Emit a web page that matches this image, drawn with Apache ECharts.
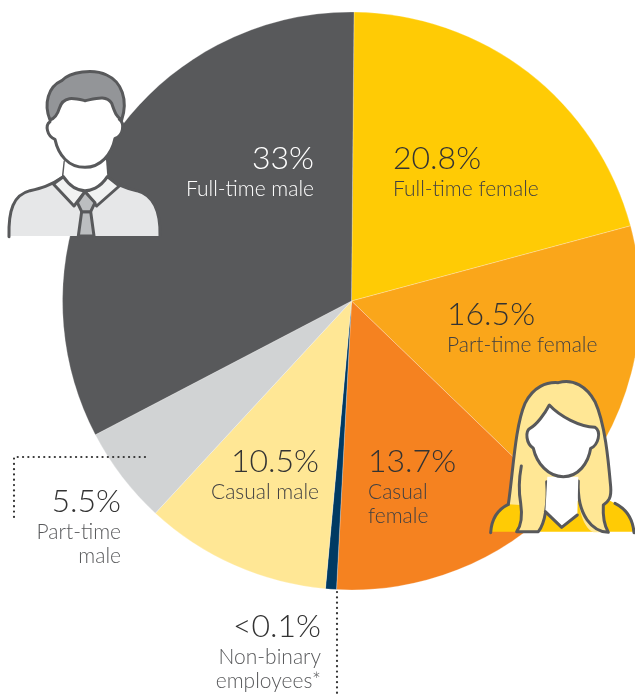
<!DOCTYPE html>
<html>
<head>
<meta charset="utf-8">
<style>
  html, body { margin: 0; padding: 0; background: #fff; overflow: hidden; }
  #chart { width: 635px; height: 694px; }
</style>
</head>
<body>
<div id="chart"></div>
<script src="https://cdn.jsdelivr.net/npm/echarts@6/dist/echarts.min.js"></script>
<script>
// clockwise from the top of the pie
const categories = ['Full-time female', 'Part-time female', 'Casual\nfemale', 'Non-binary\nemployees*', 'Casual male', 'Part-time\nmale', 'Full-time male']
const values = [20.8, 16.5, 13.7, 0.1, 10.5, 5.5, 33]
const valueLabels = ['20.8%', '16.5%', '13.7%', '<0.1%', '10.5%', '5.5%', '33%']

const sliceColors = ['#ffcb05', '#faa61a', '#f58220', '#003a63', '#ffe795', '#d1d3d4', '#58595b']
const labelSpots = [
  { x: 393, y: 140, align: 'left' },
  { x: 447, y: 296, align: 'left' },
  { x: 368, y: 443, align: 'left' },
  { x: 321, y: 608, align: 'right' },
  { x: 319, y: 443, align: 'right' },
  { x: 121, y: 483, align: 'right' },
  { x: 314, y: 140, align: 'right' }
]
const textFont = 'Lato'

// zoomed-in icon outlines, scaled down by the group
const lineColor = '#58595b'
const manIcon = [
  { d: 'M27,528 C25,450 40,405 90,392 C120,385 150,378 190,350 L322,350 C350,375 375,385 410,392 C460,405 482,450 480,528 Z', fill: '#e6e7e8', stroke: null },
  { d: 'M27,530 C25,450 40,405 90,392 C120,385 150,378 190,350 L195,305 M322,350 L318,305 M322,350 C350,375 375,385 410,392 C460,405 482,450 480,528', fill: null },
  { d: 'M195,300 L190,350 C210,380 235,392 255,392 C270,392 300,385 322,350 L318,300 Z', fill: '#fff', stroke: null },
  { d: 'M160,372 L222,438 L255,395 L290,438 L358,378 L322,350 C300,385 270,392 255,392 C235,392 210,380 190,350 Z', fill: '#f1f2f2' },
  { d: 'M245,455 L235,528 L282,528 L272,455 Z', fill: '#bcbec0' },
  { d: 'M255,395 L232,428 L245,455 L272,455 L285,428 Z', fill: '#bcbec0' },
  { d: 'M150,185 C135,195 140,228 165,238 C175,285 205,322 255,322 C300,322 335,285 345,235 C370,228 375,190 358,178 L255,100 Z', fill: '#fff', stroke: null },
  { d: 'M150,185 C135,195 140,228 165,238 C175,285 205,322 255,322 C300,322 335,285 345,235 C370,228 375,190 358,178', fill: null },
  { d: 'M150,180 C130,130 145,80 185,62 C210,35 280,25 320,45 C365,65 385,120 365,180 C350,170 345,160 335,130 C320,105 290,115 255,122 C225,115 190,105 178,145 C172,165 165,175 150,180 Z', fill: '#939598' }
]
const womanIcon = [
  { d: 'M32,485 C35,440 60,415 110,392 L390,392 C430,410 458,440 462,485 Z', fill: '#ffcb05', stroke: null },
  { d: 'M32,488 C35,440 60,415 85,403 M405,400 C435,415 458,440 462,488', fill: null },
  { d: 'M85,403 C100,300 105,170 135,100 C160,50 200,35 235,38 C280,25 320,50 345,95 C375,160 385,270 392,350 C395,385 385,395 370,405 C368,440 375,470 385,487 L340,487 C305,470 290,400 295,330 L200,335 C205,400 195,460 175,485 L110,485 C125,465 128,440 122,405 Z', fill: '#ffe795', stroke: null },
  { d: 'M85,403 C100,300 105,170 135,100 C160,50 200,35 235,38 C280,25 320,50 345,95 C375,160 385,270 392,350 M392,350 C395,385 385,395 370,405 C368,440 375,470 385,487 C340,485 290,440 295,333 M200,335 C205,400 195,460 175,485 L110,485 C125,465 128,440 122,400 C115,360 118,320 124,288', fill: null },
  { d: 'M202,320 L196,425 L245,472 L292,435 L295,320 Z', fill: '#fff', stroke: null },
  { d: 'M196,425 L245,472 L292,435', fill: null },
  { d: 'M208,105 C195,130 170,165 150,175 C135,185 138,220 160,235 C170,280 205,320 250,320 C295,320 325,280 332,235 C355,225 365,185 345,172 C300,170 240,140 208,105 Z', fill: '#fff' }
]

let shapeCount = 0
function iconGroup(parts, x, y) {
  return {
    type: 'group',
    x: x,
    y: y,
    scaleX: 1 / 3,
    scaleY: 1 / 3,
    z: 20,
    silent: true,
    children: parts.map(function (part) {
      // graphic has no plain path type, so each outline gets its own shape
      const shapeName = 'iconPart' + shapeCount++
      echarts.graphic.registerShape(shapeName, echarts.graphic.extendPath(part.d, {}))
      return {
        type: shapeName,
        z: 20,
        style: {
          fill: part.fill || 'none',
          stroke: part.stroke === null ? 'none' : lineColor,
          lineWidth: 9,
          lineJoin: 'round',
          lineCap: 'round'
        }
      }
    })
  }
}

function dottedLine(points) {
  return {
    type: 'polyline',
    z: 15,
    silent: true,
    shape: { points: points },
    style: { fill: 'none', stroke: '#333', lineWidth: 2.2, lineDash: [0.1, 5.2], lineCap: 'round' }
  }
}

const chart = echarts.init(document.getElementById('chart'), null, { renderer: 'canvas' })

const sliceData = categories.map(function (name, i) {
  const dark = i === categories.length - 1
  const outside = i === 3 || i === 5
  return {
    name: name,
    value: values[i],
    itemStyle: { color: sliceColors[i] },
    label: {
      formatter: '{v|' + valueLabels[i] + '}\n' + name.split('\n').map(function (t) { return '{n|' + t + '}' }).join('\n'),
      align: labelSpots[i].align,
      rich: {
        v: { fontFamily: textFont, fontWeight: 300, fontSize: 32, lineHeight: 37, color: dark ? '#fff' : '#333', align: labelSpots[i].align },
        n: { fontFamily: textFont, fontWeight: 300, fontSize: 21, lineHeight: 24, color: dark ? '#fff' : (outside ? '#58595b' : '#414042'), align: labelSpots[i].align }
      }
    }
  }
})

chart.setOption({
  animation: false,
  series: [{
    type: 'pie',
    silent: true,
    center: [351.5, 301],
    radius: [0, 289],
    startAngle: 89.5,
    minAngle: 2.2,
    data: sliceData,
    avoidLabelOverlap: false,
    itemStyle: { borderColor: 'rgba(255,255,255,0.5)', borderWidth: 0.5 },
    label: { show: true, position: 'inside' },
    labelLine: { show: false },
    labelLayout: function (params) {
      const spot = labelSpots[params.dataIndex]
      return { x: spot.x, y: spot.y, align: spot.align, verticalAlign: 'top' }
    }
  }],
  graphic: [
    iconGroup(manIcon, 0, 60),
    iconGroup(womanIcon, 480, 370),
    dottedLine([[145, 457], [14, 457], [14, 519]]),
    dottedLine([[337, 592], [337, 694]])
  ]
})
</script>
</body>
</html>
